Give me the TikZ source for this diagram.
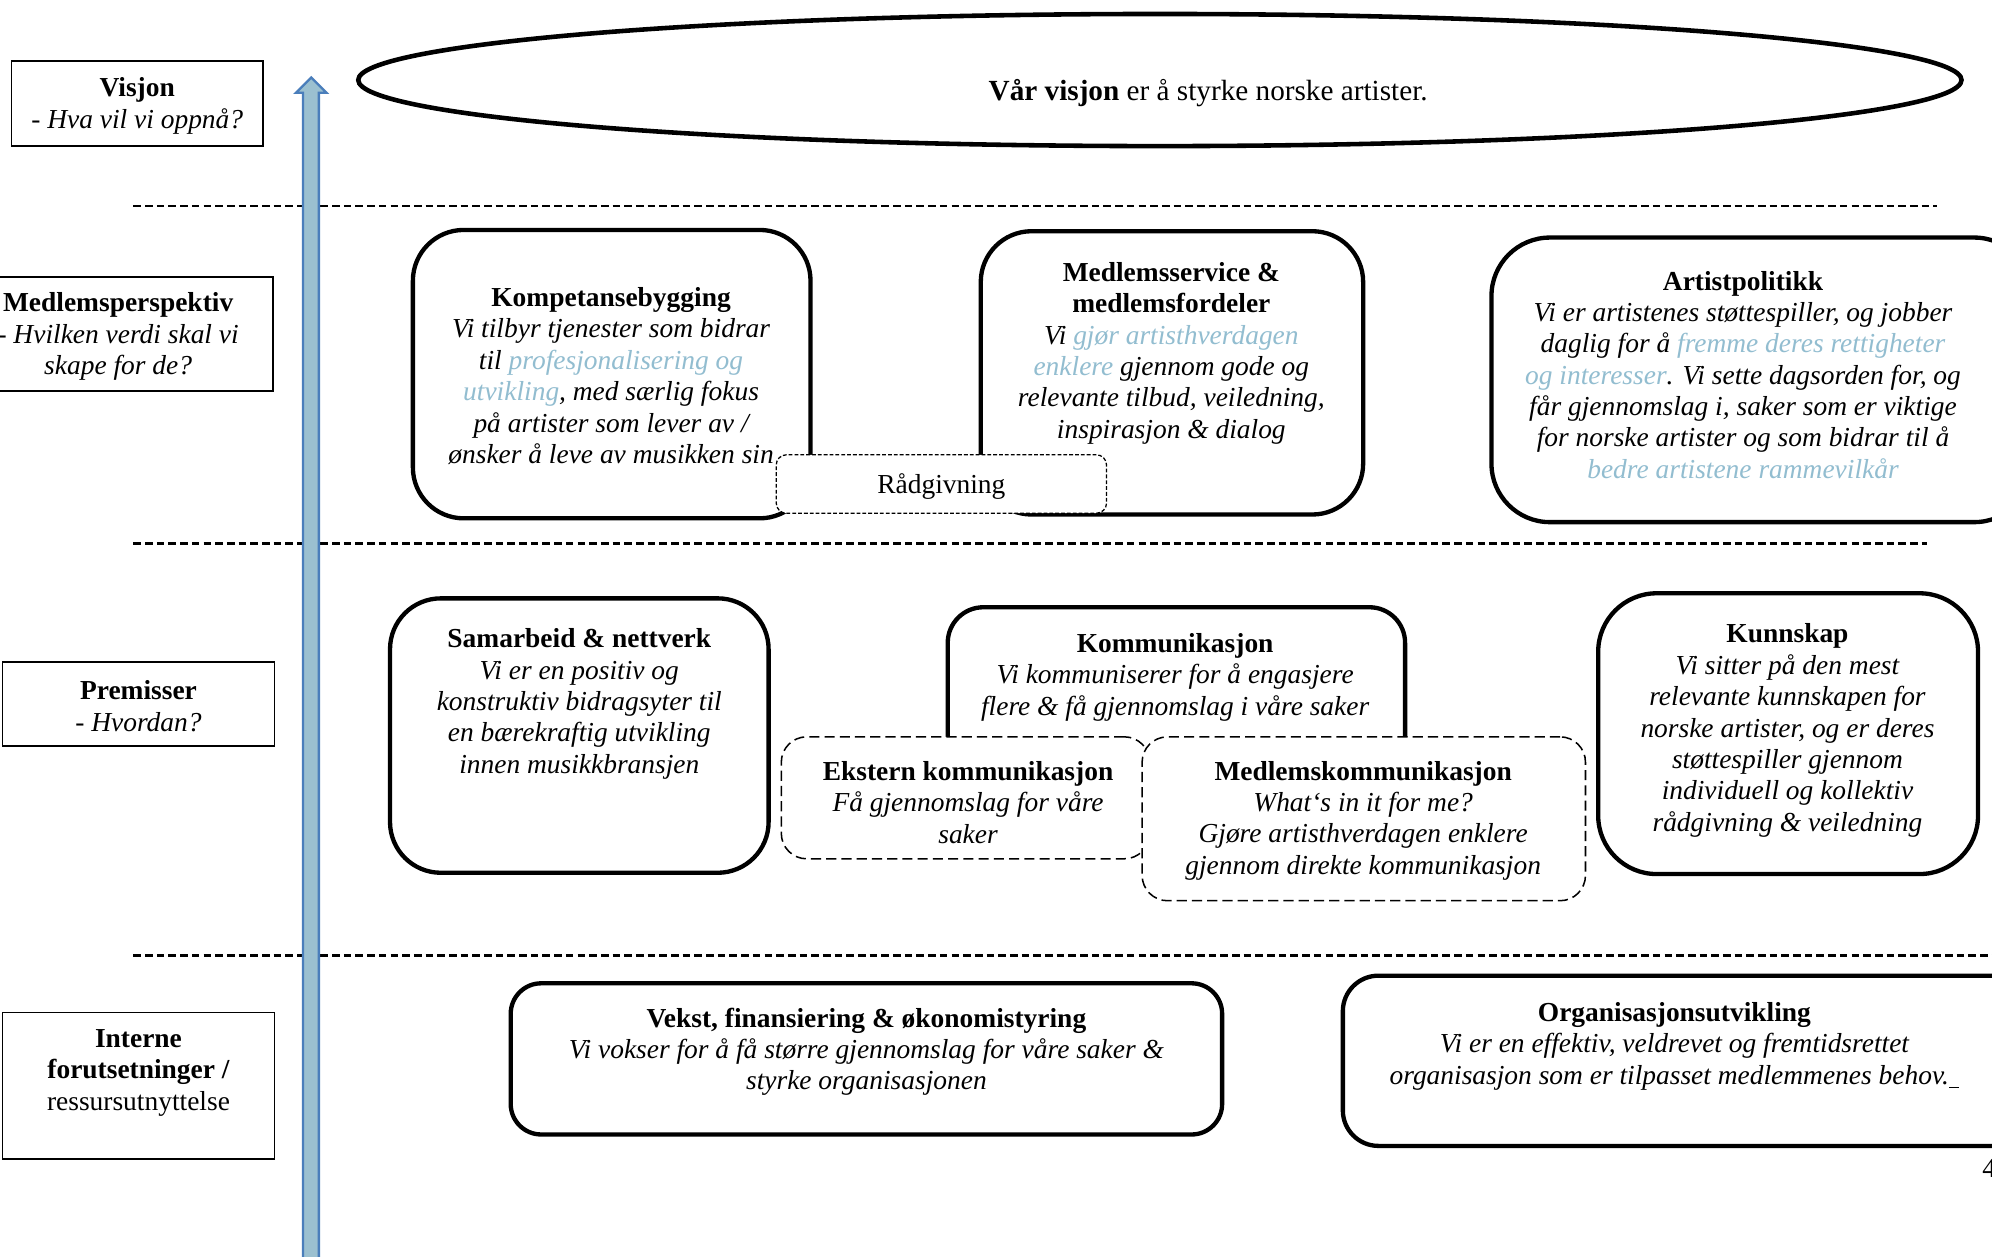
\documentclass[tikz,border=0pt]{standalone}
\usepackage{fontspec}
\setmainfont{Liberation Serif}
\usetikzlibrary{fit,shapes.geometric}

\definecolor{softblue}{RGB}{146,189,208}
\definecolor{arrowfill}{RGB}{155,192,208}
\definecolor{arrowedge}{RGB}{74,126,187}

\newcommand{\hilite}[1]{\textcolor{softblue}{#1}}
\newcommand{\boxhead}[1]{\textbf{\upshape #1}}

\tikzset{
  labelbox/.style={draw, line width=0.7pt, inner sep=0pt},
  pillar/.style={draw, line width=1.7pt, rounded corners=20pt, inner sep=0pt, fill=white},
  subpillar/.style={draw, line width=0.6pt, dash pattern=on 4pt off 2pt, rounded corners=10pt, inner sep=0pt, fill=white},
  tipbox/.style={draw, line width=0.5pt, dash pattern=on 1.5pt off 0.8pt, rounded corners=4pt, inner sep=0pt, fill=white},
  sepline/.style={line width=1pt, dash pattern=on 3pt off 1.6pt},
  bodytext/.style={align=center, inner sep=0pt, yshift=-3pt, font=\fontsize{10.8pt}{12.35pt}\selectfont\itshape},
  plaintext/.style={align=center, inner sep=0pt, yshift=-3pt, font=\fontsize{10.8pt}{12.35pt}\selectfont}
}

\begin{document}
\begin{tikzpicture}[x=0.5pt, y=-0.5pt]
\useasboundingbox (0,0) rectangle (1568,989);

% skillelinjer
\draw[sepline] (105,162) -- (1525,162);
\draw[sepline] (105,428) -- (1517,428);
\draw[sepline] (105,752) -- (1580,752);

% venstre kolonne
\node[labelbox, fit={(9,48) (207,115)}] (visbox) {};
\node[bodytext] (vistext) at (108,77.5) {\boxhead{Visjon}\\- Hva vil vi oppnå?};
\node[labelbox, fit={(-5,218) (215,308)}] (medbox) {};
\node[bodytext] (medtext) at (93,259) {\boxhead{Medlemsperspektiv}\\- Hvilken verdi skal vi\\skape for de?};
\node[labelbox, fit={(2,521) (216,587)}] (prembox) {};
\node[bodytext] (premtext) at (109,550) {\boxhead{Premisser}\\- Hvordan?};
\node[labelbox, fit={(2,797) (216,912)}] (intbox) {};
\node[bodytext] (inttext) at (109,838.5) {\boxhead{Interne}\\\boxhead{forutsetninger /}\\\upshape ressursutnyttelse};

% visjon
\node[draw, ellipse, line width=1.8pt, inner sep=0pt, minimum width=631pt, minimum height=52pt] (visell) at (913,63) {};
\node[plaintext, font=\fontsize{11.5pt}{13pt}\selectfont] (vistxt) at (951,67) {\textbf{Vår visjon} er å styrke norske artister.};

% medlemsperspektiv
\node[pillar, fit={(325,181) (638,408)}] (kompbox) {};
\node[bodytext] (komptext) at (481,290) {\boxhead{Kompetansebygging}\\Vi tilbyr tjenester som bidrar\\til \hilite{profesjonalisering og}\\\hilite{utvikling}, med særlig fokus\\på artister som lever av /\\ønsker å leve av musikken sin};
\node[pillar, fit={(772,182) (1073,405)}] (servbox) {};
\node[bodytext] (servtext) at (922,272) {\boxhead{Medlemsservice \&}\\\boxhead{medlemsfordeler}\\Vi \hilite{gjør artisthverdagen}\\\hilite{enklere} gjennom gode og\\relevante tilbud, veiledning,\\inspirasjon \& dialog};
\node[pillar, rounded corners=23pt, fit={(1174,187) (1600,411)}] (polbox) {};
\node[bodytext] (poltext) at (1372,289) {\boxhead{Artistpolitikk}\\Vi er artistenes støttespiller, og jobber\\daglig for å \hilite{fremme deres rettigheter}\\\hilite{og interesser}. Vi sette dagsorden for, og\\får gjennomslag i, saker som er viktige\\for norske artister og som bidrar til å\\\hilite{bedre artistene rammevilkår}};
\node[tipbox, fit={(611,358) (871,404)}] (radbox) {};
\node[plaintext] (radtext) at (741,377) {Rådgivning};

% premisser
\node[pillar, fit={(307,471) (605,687)}] (sambox) {};
\node[bodytext] (samtext) at (456,548) {\boxhead{Samarbeid \& nettverk}\\Vi er en positiv og\\konstruktiv bidragsyter til\\en bærekraftig utvikling\\innen musikkbransjen};
\node[pillar, rounded corners=14pt, fit={(746,478) (1106,610)}] (kommbox) {};
\node[bodytext] (kommtext) at (925,527) {\boxhead{Kommunikasjon}\\Vi kommuniserer for å engasjere\\flere \& få gjennomslag i våre saker};
\node[subpillar, fit={(615,580) (905,676)}] (ekstbox) {};
\node[bodytext] (eksttext) at (762,625.5) {\boxhead{Ekstern kommunikasjon}\\Få gjennomslag for våre\\saker};
\node[subpillar, fit={(899,580) (1248,709)}] (mkombox) {};
\node[bodytext] (mkomtext) at (1073,640) {\boxhead{Medlemskommunikasjon}\\What`s in it for me?\\Gjøre artisthverdagen enklere\\gjennom direkte kommunikasjon};
\node[pillar, rounded corners=23pt, fit={(1258,467) (1557,688)}] (kunnbox) {};
\node[bodytext] (kunntext) at (1407,569) {\boxhead{Kunnskap}\\Vi sitter på den mest\\relevante kunnskapen for\\norske artister, og er deres\\støttespiller gjennom\\individuell og kollektiv\\rådgivning \& veiledning};

% interne forutsetninger
\node[pillar, rounded corners=12pt, fit={(402,774) (962,893)}] (vekstbox) {};
\node[bodytext] (veksttext) at (682,822) {\boxhead{Vekst, finansiering \& økonomistyring}\\Vi vokser for å få større gjennomslag for våre saker \&\\styrke organisasjonen};
\node[pillar, rounded corners=14pt, fit={(1057,768) (1600,902)}] (orgbox) {};
\node[bodytext] (orgtext) at (1318,817.5) {\boxhead{Organisasjonsutvikling}\\Vi er en effektiv, veldrevet og fremtidsrettet\\organisasjon som er tilpasset medlemmenes behov.\underline{\hspace{4pt}}};

\node[plaintext, anchor=west] (pagenum) at (1560,914) {4};

% pil
\draw[line width=0.9pt, draw=arrowedge, fill=arrowfill]
  (238.5,1000) -- (238.5,73) -- (233,73) -- (245,61) -- (257,73) -- (251,73) -- (251,1000) -- cycle;
\end{tikzpicture}
\end{document}
